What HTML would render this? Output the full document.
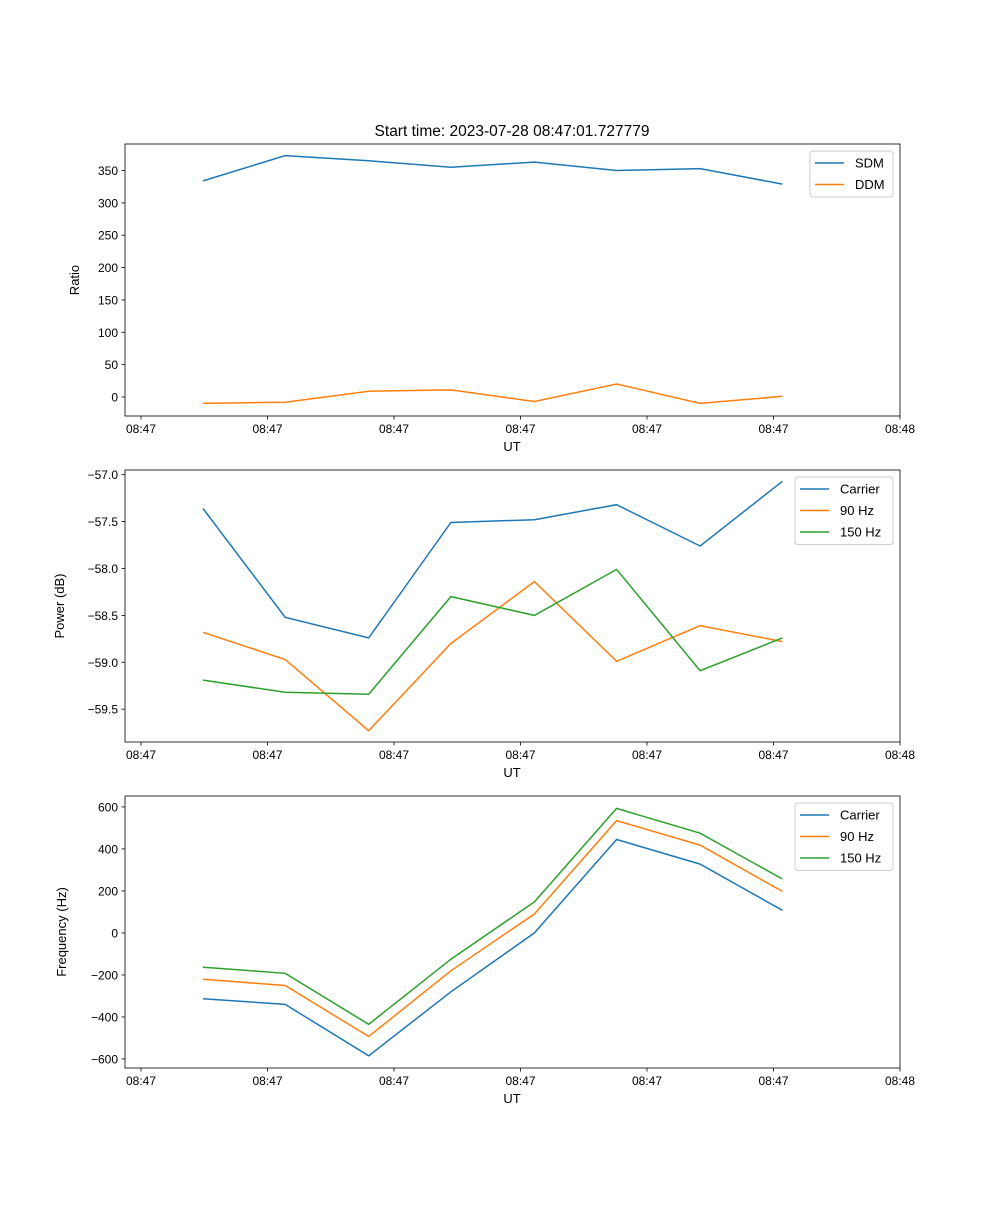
<!DOCTYPE html>
<html><head><meta charset="utf-8"><style>
body{margin:0;background:#fff;}
svg text{font-family:"Liberation Sans","DejaVu Sans",sans-serif;fill:#000;}
</style></head><body>
<svg id="fig" width="1000" height="1200" xmlns="http://www.w3.org/2000/svg">
<text x="512" y="136" font-size="15.5" text-anchor="middle">Start time: 2023-07-28 08:47:01.727779</text>
</svg>
<script>
const xTickLabels = ["08:47","08:47","08:47","08:47","08:47","08:47","08:48"];
const xTickSecs = [0,10,20,30,40,50,60];
const times = [4.9,11.4,18.0,24.5,31.1,37.6,44.2,50.7];
const sdm = [334,373,365,355,363,350,353,329];
const ddm = [-10,-8,9,11,-7,20,-10,1];
const pCarrier = [-57.36,-58.52,-58.74,-57.51,-57.48,-57.32,-57.76,-57.07];
const p90 = [-58.68,-58.97,-59.73,-58.80,-58.14,-58.99,-58.61,-58.78];
const p150 = [-59.19,-59.32,-59.34,-58.30,-58.50,-58.01,-59.09,-58.74];
const fCarrier = [-313,-340,-585,-280,0,445,328,108];
const f90 = [-220,-250,-493,-180,90,535,418,198];
const f150 = [-163,-192,-435,-125,148,593,475,257];
const ratioTicks = [0,50,100,150,200,250,300,350];
const powerTicks = [-59.5,-59.0,-58.5,-58.0,-57.5,-57.0];
const freqTicks = [-600,-400,-200,0,200,400,600];

const NS="http://www.w3.org/2000/svg";
const svg=document.getElementById('fig');
function mk(t,a,p){const e=document.createElementNS(NS,t);for(const k in a)e.setAttribute(k,a[k]);(p||svg).appendChild(e);return e;}
const X0=125,X1=900;
const xs=s=>141+(s/10)*126.5;

function panel(name,top,bot,ymin,ymax,yticks,fmt,ylabel,ylx,series,legend){
  const g=mk('g',{});
  
  
  const ys=v=>bot-(v-ymin)/(ymax-ymin)*(bot-top);
  series.forEach(s=>{
    const d=s.vals.map((v,i)=>(i?'L':'M')+xs(times[i]).toFixed(1)+' '+ys(v).toFixed(1)).join(' ');
    const p=mk('path',{d:d,fill:'none',stroke:s.color,'stroke-width':1.5},g);
    
    
  });
  const fr=mk('rect',{x:X0,y:top,width:X1-X0,height:bot-top,fill:'none',stroke:'#000','stroke-width':0.8},g);
  
  
  xTickSecs.forEach((s,i)=>{
    mk('line',{x1:xs(s),x2:xs(s),y1:bot,y2:bot+3.5,stroke:'#000','stroke-width':0.8},g);
    const t=mk('text',{x:xs(s),y:bot+17,'font-size':12,'text-anchor':'middle'},g);
    t.textContent=xTickLabels[i];
    
    
  });
  yticks.forEach(v=>{
    mk('line',{x1:X0-3.5,x2:X0,y1:ys(v),y2:ys(v),stroke:'#000','stroke-width':0.8},g);
    const t=mk('text',{x:X0-7,y:ys(v)+4.5,'font-size':12,'text-anchor':'end'},g);
    t.textContent=fmt(v);
    
    
  });
  const xl=mk('text',{x:512,y:bot+35,'font-size':13,'text-anchor':'middle'},g);
  xl.textContent='UT';
  
  
  const cy=(top+bot)/2;
  const yl=mk('text',{x:ylx,y:cy,'font-size':13,'text-anchor':'middle',transform:`rotate(-90 ${ylx} ${cy})`},g);
  yl.textContent=ylabel;
  
  
  const lg=mk('g',{},g);
  
  
  mk('rect',{x:legend.x,y:top+7,width:legend.w,height:series.length*21.5+3,rx:3,fill:'#fff','fill-opacity':0.8,stroke:'#ccc','stroke-width':1},lg);
  series.forEach((s,i)=>{
    const yy=top+19+i*21.5;
    mk('line',{x1:legend.x+5,x2:legend.x+34,y1:yy,y2:yy,stroke:s.color,'stroke-width':1.5},lg);
    const t=mk('text',{x:legend.x+45,y:yy+4.5,'font-size':13},lg);
    t.textContent=s.label;
    
    
  });
}
const B='#1f77b4',O='#ff7f0e',G='#2ca02c';
panel('ratio',144,416,-29.4,391,ratioTicks,v=>String(v),'Ratio',79,
  [{key:'sdm',label:'SDM',vals:sdm,color:B},{key:'ddm',label:'DDM',vals:ddm,color:O}],{x:810,w:83});
panel('power',470,742,-59.85,-56.95,powerTicks,v=>(v<0?'\u2212':'')+Math.abs(v).toFixed(1),'Power (dB)',64,
  [{key:'carrier',label:'Carrier',vals:pCarrier,color:B},{key:'90hz',label:'90 Hz',vals:p90,color:O},{key:'150hz',label:'150 Hz',vals:p150,color:G}],{x:795,w:98});
panel('frequency',796,1068,-643,652,freqTicks,v=>(v<0?'\u2212':'')+Math.abs(v),'Frequency (Hz)',66,
  [{key:'carrier',label:'Carrier',vals:fCarrier,color:B},{key:'90hz',label:'90 Hz',vals:f90,color:O},{key:'150hz',label:'150 Hz',vals:f150,color:G}],{x:795,w:98});
</script>
</body></html>
